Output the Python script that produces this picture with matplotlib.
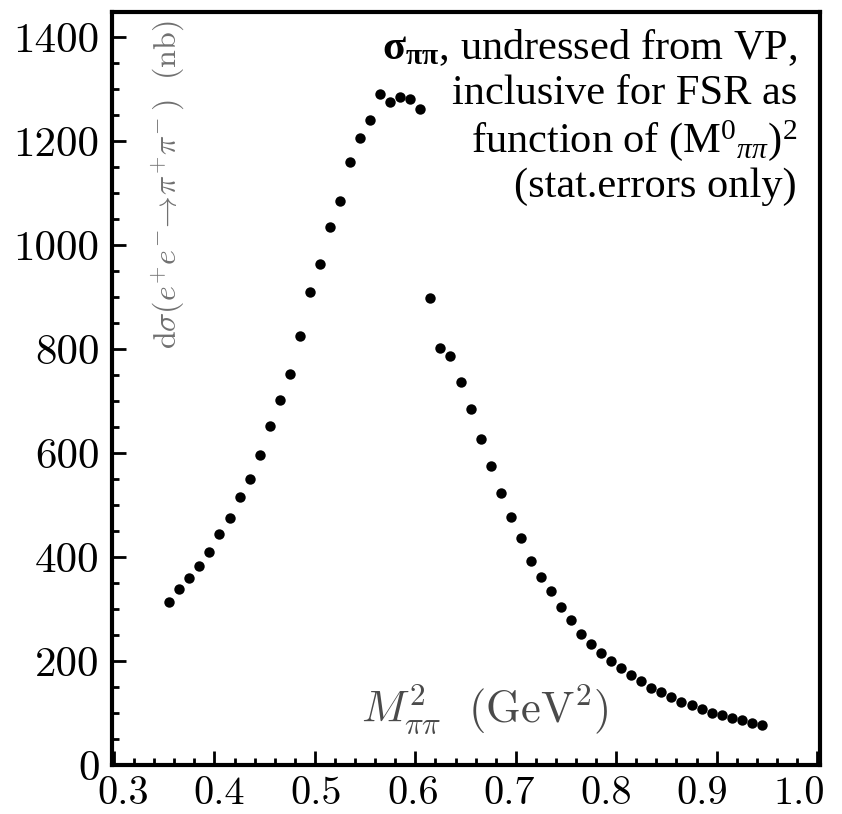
import matplotlib
matplotlib.use("Agg")
import matplotlib.pyplot as plt
from matplotlib.ticker import MultipleLocator
from matplotlib.transforms import ScaledTranslation

plt.rcParams['mathtext.fontset'] = 'cm'
plt.rcParams['mathtext.rm'] = 'Liberation Serif'
plt.rcParams['mathtext.bf'] = 'Liberation Serif:bold'
plt.rcParams['mathtext.it'] = 'Liberation Serif:italic'

# Data: M^2_pipi (GeV^2) and cross section (nb)
m2 = [0.355, 0.365, 0.375, 0.385, 0.395, 0.405, 0.415, 0.425, 0.435, 0.445,
      0.455, 0.465, 0.475, 0.485, 0.495, 0.505, 0.515, 0.525, 0.535, 0.545,
      0.555, 0.565, 0.575, 0.585, 0.595, 0.605, 0.615, 0.625, 0.635, 0.645,
      0.655, 0.665, 0.675, 0.685, 0.695, 0.705, 0.715, 0.725, 0.735, 0.745,
      0.755, 0.765, 0.775, 0.785, 0.795, 0.805, 0.815, 0.825, 0.835, 0.845,
      0.855, 0.865, 0.875, 0.885, 0.895, 0.905, 0.915, 0.925, 0.935, 0.945]
sigma = [313, 338, 359, 383, 409, 444, 476, 516, 551, 596,
         652, 702, 752, 826, 909, 963, 1035, 1085, 1159, 1207,
         1240, 1290, 1275, 1285, 1282, 1261, 899, 802, 787, 736,
         685, 628, 575, 523, 478, 437, 392, 362, 335, 304,
         279, 253, 233, 215, 200, 186, 174, 162, 149, 140,
         131, 122, 115, 108, 101, 96, 91, 87, 82, 77]

xticks = [0.3, 0.4, 0.5, 0.6, 0.7, 0.8, 0.9, 1.0]
xticklabels = ['0.3', '0.4', '0.5', '0.6', '0.7', '0.8', '0.9', '1.0']
yticks = [0, 200, 400, 600, 800, 1000, 1200, 1400]
yticklabels = ['0', '200', '400', '600', '800', '1000', '1200', '1400']

fig = plt.figure(figsize=(8.42, 8.14), dpi=100)
ax = fig.add_axes([0.133, 0.060, 0.841, 0.925])

ax.plot(m2, sigma, 'o', color='black', markersize=7.5, markeredgewidth=0)

ax.set_xlim(0.298, 1.003)
ax.set_ylim(0, 1448)

ax.set_xticks(xticks)
ax.set_xticklabels(xticklabels, fontfamily='cmr10', fontsize=29)
ax.set_yticks(yticks)
ax.set_yticklabels(yticklabels, fontfamily='cmr10', fontsize=31)
ax.xaxis.set_minor_locator(MultipleLocator(0.02))
ax.yaxis.set_minor_locator(MultipleLocator(50))
ax.tick_params(which='both', direction='in', top=False, right=False, width=2)
ax.tick_params(which='major', length=10)
ax.tick_params(which='minor', length=5)
ax.tick_params(axis='x', which='major', pad=8)
ax.tick_params(axis='y', which='major', pad=9)
for s in ax.spines.values():
    s.set_linewidth(3)

# slight horizontal nudges of the x tick labels (as in the reference layout)
n = len(xticklabels)
for i, lab in enumerate(ax.get_xticklabels()):
    dx_px = 9 - 27 * i / (n - 1)
    lab.set_transform(lab.get_transform() + ScaledTranslation(dx_px / 100, 0, fig.dpi_scale_trans))

ax.text(0.354, 1433,
        r'$\mathrm{d}\sigma(e^{\!+}\!e^{\!-}\!\!\rightarrow\!\pi^{\!+}\!\pi^{\!-})\ \ (\mathrm{nb})$',
        rotation=90, ha='center', va='top', fontsize=23, color='#707070',
        math_fontfamily='cm')
ax.text(0.669, 108, r'$M^2_{\pi\pi}\ \ (\mathrm{GeV}^2)$',
        ha='center', va='center', fontsize=32, color='#4a4a4a',
        math_fontfamily='cm')

lines = [r'$\mathbf{σ_{ππ}}$, undressed from VP,',
         'inclusive for FSR as',
         r'function of (M$^0$$_{ππ}$)$^2$',
         '(stat.errors only)']
ys = [1380, 1292, 1202, 1112]
for t, yy in zip(lines, ys):
    ax.text(0.980, yy, t, ha='right', va='center', fontsize=30.5,
            fontfamily='Liberation Serif', math_fontfamily='custom', color='black')

fig.savefig('out.png', dpi=100)
